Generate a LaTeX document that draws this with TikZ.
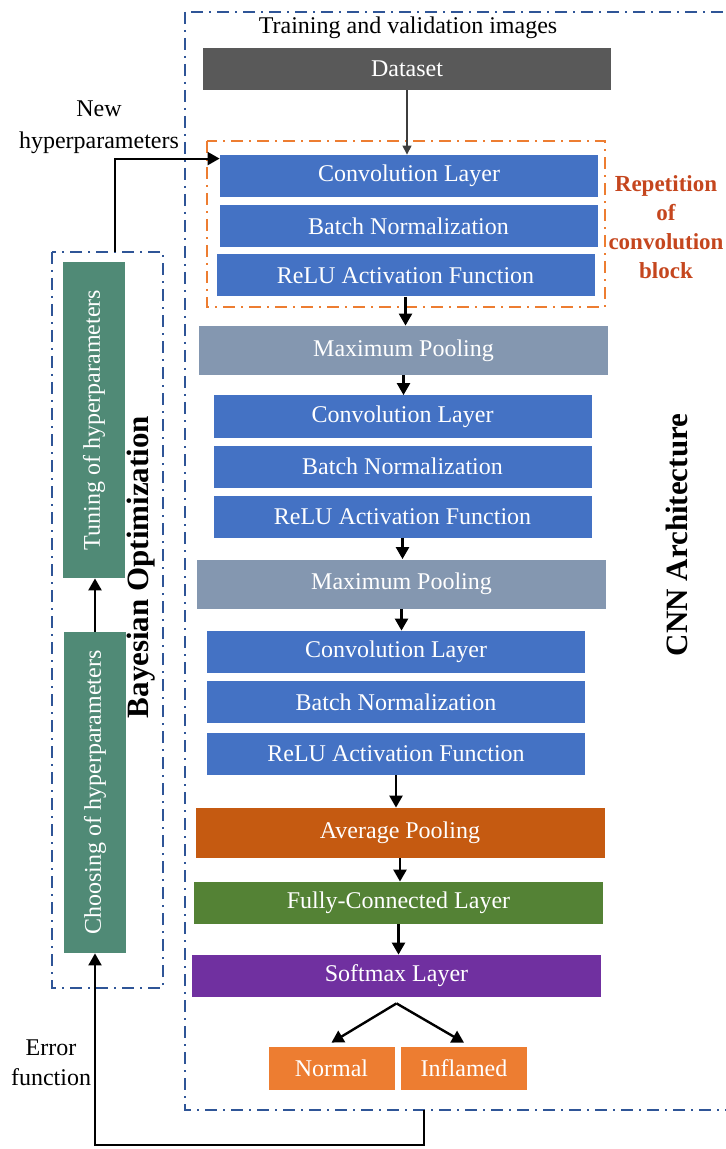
\documentclass[tikz,border=0pt]{standalone}
\usepackage{fontspec}
\setmainfont{Liberation Serif}
\usetikzlibrary{positioning,arrows.meta}
\definecolor{myblue}{RGB}{68,114,196}
\definecolor{mygray}{RGB}{132,151,176}
\definecolor{mydark}{RGB}{89,89,89}
\definecolor{myrust}{RGB}{197,90,17}
\definecolor{mygreen}{RGB}{84,130,53}
\definecolor{mypurple}{RGB}{112,48,160}
\definecolor{myorange}{RGB}{237,125,49}
\definecolor{myteal}{RGB}{80,138,118}
\definecolor{mynavy}{RGB}{47,85,151}
\definecolor{myred}{RGB}{197,70,30}

\begin{document}
\begin{tikzpicture}[x=0.5pt,y=-0.5pt,
  blk/.style={fill=#1,text=white,inner sep=0pt,minimum height=21pt,
    font=\fontsize{12}{14}\selectfont},
  cblk/.style={blk=myblue,minimum width=189pt},
  pblk/.style={blk=mygray,minimum width=204.5pt,minimum height=24.5pt},
  wblk/.style={blk=#1,minimum width=204.5pt},
  oblk/.style={blk=myorange,minimum width=63pt,minimum height=21.5pt},
  hblk/.style={blk=myteal,rotate=90,minimum height=31pt},
  lbl/.style={font=\fontsize{12}{16}\selectfont,align=center},
  ttl/.style={font=\fontsize{15.5}{18}\selectfont\bfseries,rotate=90},
  arr/.style={-{Triangle[length=6pt,width=6.5pt]},line width=1.2pt},
  dd/.style={dash pattern=on 6pt off 3pt on 1pt off 3pt,line width=0.8pt}]

  \useasboundingbox (0,0) rectangle (726,1149);

  % frames
  \draw[dd,mynavy] (185,12) rectangle (760,1110);
  \draw[dd,mynavy] (52,252) rectangle (163,988);
  \draw[dd,myorange] (207,141) rectangle (605,307);

  \node[lbl] (title) at (408,28) {Training and validation images};
  \node[blk=mydark,minimum width=204pt] (data) at (407,69) {Dataset};

  % first block
  \node[cblk] (conv1) at (409,176) {Convolution Layer};
  \node[cblk] (bn1) at (408.5,226) {Batch Normalization};
  \node[cblk] (relu1) at (405.5,275.5) {ReLU Activation Function};
  \node[pblk] (pool1) at (403.5,350.5) {Maximum Pooling};

  % second block
  \node[cblk] (conv2) at (402.5,416.5) {Convolution Layer};
  \node[cblk] (bn2) at (402.5,466.5) {Batch Normalization};
  \node[cblk] (relu2) at (402.5,516.5) {ReLU Activation Function};
  \node[pblk] (pool2) at (401.5,584) {Maximum Pooling};

  % third block
  \node[cblk] (conv3) at (396,652) {Convolution Layer};
  \node[cblk] (bn3) at (396,702) {Batch Normalization};
  \node[cblk] (relu3) at (396,754) {ReLU Activation Function};

  \node[wblk=myrust,minimum height=25pt] (avg) at (400,833) {Average Pooling};
  \node[wblk=mygreen] (fc) at (398.5,903) {Fully-Connected Layer};
  \node[wblk=mypurple] (smax) at (396.5,976) {Softmax Layer};
  \node[oblk] (normal) at (331.5,1068.5) {Normal};
  \node[oblk] (inflamed) at (464,1068.5) {Inflamed};

  \node[lbl,text=myred,font=\fontsize{11.5}{14.5}\selectfont\bfseries] (rep) at (666,227)
    {Repetition\\of\\convolution\\block};
  \node[ttl] (cnn) at (677,535) {CNN Architecture};

  % bayesian side
  \node[hblk,minimum width=158pt] (tune) at (94,420) {Tuning of hyperparameters};
  \node[hblk,minimum width=160.5pt] (choose) at (95,792.5) {Choosing of hyperparameters};
  \node[ttl] (bayes) at (141,567) {Bayesian Optimization};
  \node[lbl] (newhp) at (99,127) {New\\hyperparameters};
  \node[lbl,font=\fontsize{12}{15}\selectfont] (err) at (51,1063) {Error\\function};

  \coordinate (hpstart) at (115,252);
  \coordinate (errstart) at (424,1110);

  % arrows
  \draw[-{Triangle[length=4.5pt,width=4.5pt]},line width=0.6pt,mydark!70!black]
    (data.south) -- (data.south |- conv1.north);
  \draw[arr] (relu1.south) -- (relu1.south |- pool1.north);
  \draw[arr] (pool1.south) -- (pool1.south |- conv2.north);
  \draw[arr] (relu2.south) -- (relu2.south |- pool2.north);
  \draw[arr] (pool2.south) -- (pool2.south |- conv3.north);
  \draw[arr] (relu3.south) -- (relu3.south |- avg.north);
  \draw[arr] (avg.south) -- (avg.south |- fc.north);
  \draw[arr] (fc.south) -- (fc.south |- smax.north);
  \draw[arr] ([yshift=-3pt]smax.south) -- ([yshift=2pt]normal.north);
  \draw[arr] ([yshift=-3pt]smax.south) -- ([yshift=2pt]inflamed.north);
  \draw[arr] (choose.east) -- (choose.east |- tune.west);
  \draw[arr,line width=1pt] (hpstart) |- ([yshift=-2pt]conv1.north west);
  \draw[arr,line width=1pt] (errstart) -- ++(0,35) -| (choose.west);

\end{tikzpicture}
\end{document}
